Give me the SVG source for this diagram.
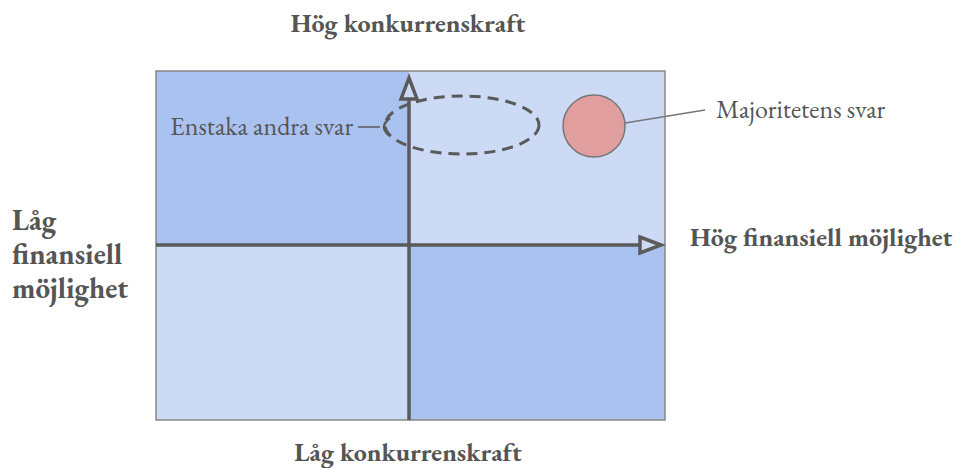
<svg xmlns="http://www.w3.org/2000/svg" width="954" height="468" viewBox="0 0 954 468">
<style>
.lbl{font-family:"EB Garamond","Liberation Serif",serif;fill:#555;}
.b{font-weight:bold;font-size:26px;}
.n{font-size:26px;}
.ax{stroke:#5a5a5a;stroke-width:3.5;fill:none;}
.head{stroke:#5a5a5a;stroke-width:3.5;stroke-linejoin:miter;}
</style>
<rect width="954" height="468" fill="#fff"/>
<g id="quadrants">
<rect x="156" y="71" width="253" height="174" fill="#aac2ef"/>
<rect x="409" y="71" width="256" height="174" fill="#cddaf5"/>
<rect x="156" y="245" width="253" height="175" fill="#cddaf5"/>
<rect x="409" y="245" width="256" height="175" fill="#aac2ef"/>
<rect x="156" y="71" width="509" height="349" fill="none" stroke="#888" stroke-width="1.5"/>
</g>
<g id="connectors">
<line class="ax" x1="409" y1="420" x2="409" y2="96"/>
<polygon class="head" points="409,78 401,99 417,99" fill="#cddaf5"/>
<line class="ax" x1="156" y1="245" x2="640" y2="245"/>
<polygon class="head" points="661,245 640,237 640,253" fill="#cddaf5"/>
<line x1="358" y1="127" x2="380" y2="127" stroke="#5a5a5a" stroke-width="1.5"/>
<path d="M390,118 Q378,127 390,136" fill="none" stroke="#5a5a5a" stroke-width="2.5"/>
<line x1="625" y1="123" x2="705" y2="110" stroke="#777" stroke-width="1.5"/>
</g>
<g id="minority">
<ellipse cx="462" cy="125" rx="77" ry="29" fill="none" stroke="#5a5a5a" stroke-width="3" stroke-dasharray="11,7"/>
<text class="lbl n" x="170" y="135">Enstaka andra svar</text>
</g>
<g id="majority">
<circle cx="594" cy="126" r="31" fill="#e09e9e" stroke="#777" stroke-width="1.5"/>
<text class="lbl n" x="716" y="118">Majoritetens svar</text>
</g>
<g id="top-label"><text class="lbl b" x="408" y="32" text-anchor="middle">Hög konkurrenskraft</text></g>
<g id="bottom-label"><text class="lbl b" x="408" y="461" text-anchor="middle">Låg konkurrenskraft</text></g>
<g id="right-label"><text class="lbl b" x="690" y="246">Hög finansiell möjlighet</text></g>
<g id="left-label"><text class="lbl b" x="12" y="230" style="font-size:29px"><tspan x="12">Låg</tspan><tspan x="12" y="264">finansiell</tspan><tspan x="12" y="298">möjlighet</tspan></text></g>
</svg>
